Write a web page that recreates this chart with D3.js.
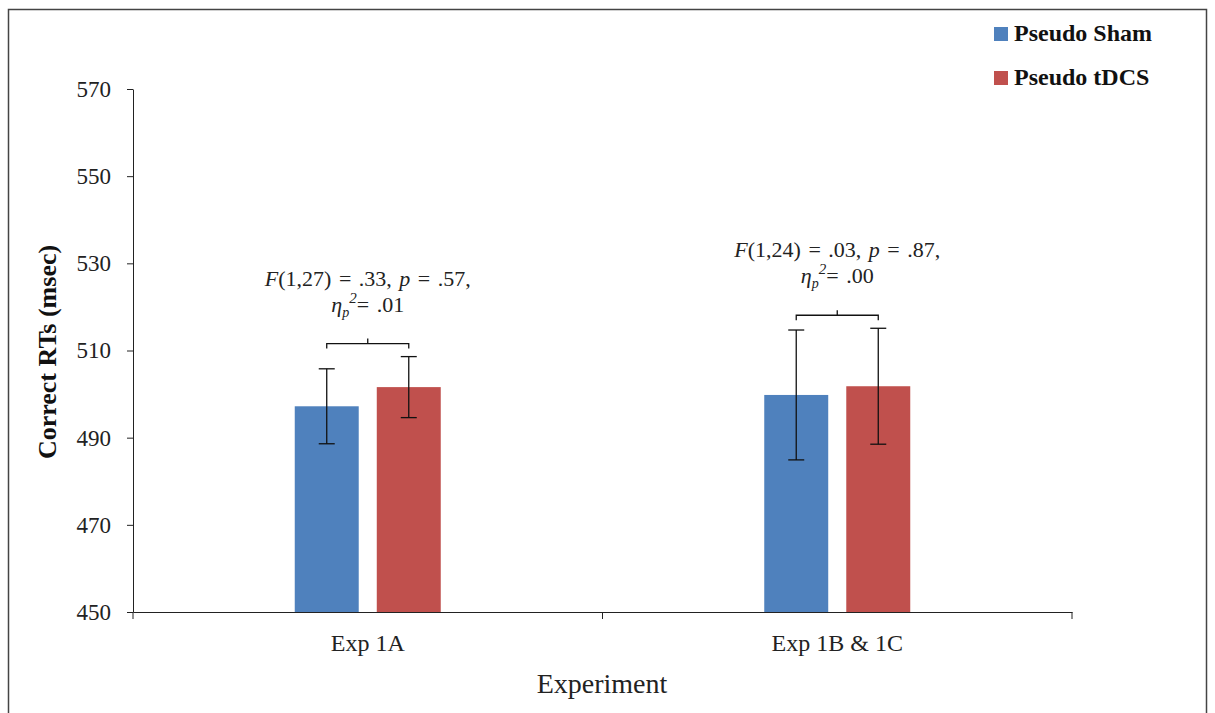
<!DOCTYPE html>
<html>
<head>
<meta charset="utf-8">
<script src="https://cdn.jsdelivr.net/npm/d3@7"></script>
<style>
  body { margin: 0; background: #fff; }
  svg { display: block; font-family: "Liberation Serif", "DejaVu Serif", serif; }
</style>
</head>
<body>
<svg class="chart" width="1215" height="713"></svg>
<script>
// data
const categories = ["Exp 1A", "Exp 1B & 1C"];
const series = ["Pseudo Sham", "Pseudo tDCS"];
const shamMeans = [497.2, 499.8];
const tdcsMeans = [501.6, 501.8];
const shamErr = [8.6, 14.9];
const tdcsErr = [7.0, 13.3];
const statLines = [
  ["F(1,27) = .33, p = .57,", ".01"],
  ["F(1,24) = .03, p = .87,", ".00"]
];
const yTicks = [450, 470, 490, 510, 530, 550, 570];
const colors = ["#4F81BD", "#C0504D"];

const serif = "'Liberation Serif', 'DejaVu Serif', serif";
const svg = d3.select(".chart");

// outer frame
svg.append("rect")
  .attr("x", 8.5).attr("y", 9.5)
  .attr("width", 1198).attr("height", 720)
  .attr("fill", "none")
  .attr("stroke", "#444")
  .attr("stroke-width", 1.5);

const x = d3.scaleBand().domain(categories).range([133, 1072]);
const x1 = d3.scaleBand().domain(series).range([-73, 73]).paddingInner(0.22);
const y = d3.scaleLinear().domain([450, 570]).range([612, 89]);

// y axis
const yAxis = svg.append("g")
  .attr("transform", "translate(133,0)")
  .call(d3.axisLeft(y).tickValues(yTicks).tickSize(6).tickSizeOuter(0).tickPadding(16))
  .attr("font-family", serif);
yAxis.selectAll("text").style("font-size", "23px").attr("fill", "#222");
yAxis.selectAll("line, path").attr("stroke", "#222");

// x axis: line with ticks at the category boundaries
const xAxis = svg.append("g")
  .attr("transform", "translate(0,612)")
  .call(d3.axisBottom(x).tickSize(0).tickPadding(22))
  .attr("font-family", serif);
xAxis.selectAll("text").style("font-size", "24px").attr("fill", "#222");
xAxis.select("path").attr("stroke", "#222");
const bounds = categories.map(c => x(c)).concat([x.range()[1]]);
xAxis.selectAll(".bound")
  .data(bounds)
  .join("line")
  .attr("class", "bound")
  .attr("x1", d => d).attr("x2", d => d)
  .attr("y1", 0).attr("y2", 7)
  .attr("stroke", "#222");

// bars
const rows = categories.map((c, i) => ({
  cat: c,
  vals: [
    { s: series[0], mean: shamMeans[i], err: shamErr[i], color: colors[0] },
    { s: series[1], mean: tdcsMeans[i], err: tdcsErr[i], color: colors[1] }
  ]
}));

const groups = svg.selectAll(".grp")
  .data(rows)
  .join("g")
  .attr("class", "grp")
  .attr("transform", d => `translate(${x(d.cat) + x.bandwidth() / 2},0)`);

groups.selectAll("rect")
  .data(d => d.vals)
  .join("rect")
  .attr("x", d => x1(d.s))
  .attr("y", d => y(d.mean))
  .attr("width", x1.bandwidth())
  .attr("height", d => y(450) - y(d.mean))
  .attr("fill", d => d.color);

// error bars
const cap = 8;
groups.each(function (d) {
  const g = d3.select(this);
  d.vals.forEach(v => {
    const cx = x1(v.s) + x1.bandwidth() / 2;
    const e = g.append("g").attr("stroke", "#111").attr("stroke-width", 1.3);
    e.append("line").attr("x1", cx).attr("x2", cx).attr("y1", y(v.mean + v.err)).attr("y2", y(v.mean - v.err));
    e.append("line").attr("x1", cx - cap).attr("x2", cx + cap).attr("y1", y(v.mean + v.err)).attr("y2", y(v.mean + v.err));
    e.append("line").attr("x1", cx - cap).attr("x2", cx + cap).attr("y1", y(v.mean - v.err)).attr("y2", y(v.mean - v.err));
  });
});

// brackets and stats text
groups.each(function (d, i) {
  const g = d3.select(this);
  const by = d3.min(d.vals, v => y(v.mean + v.err)) - 13;
  const xa = x1(series[0]) + x1.bandwidth() / 2;
  const xb = x1(series[1]) + x1.bandwidth() / 2;
  g.append("path")
    .attr("d", `M${xa},${by + 5}V${by}H${xb}V${by + 5}M${(xa + xb) / 2},${by}V${by - 5}`)
    .attr("fill", "none")
    .attr("stroke", "#111")
    .attr("stroke-width", 1.3);

  const l2 = by - 32;
  const t1 = g.append("text")
    .attr("x", 0).attr("y", l2 - 26)
    .attr("text-anchor", "middle")
    .style("font-size", "22px")
    .style("word-spacing", "2px")
    .attr("fill", "#222");
  // italicise F and p
  const parts = statLines[i][0].split(/(F|p)/).filter(s => s.length);
  parts.forEach(p => {
    t1.append("tspan")
      .style("font-style", p === "F" || p === "p" ? "italic" : "normal")
      .text(p);
  });

  const t2 = g.append("text")
    .attr("x", 0).attr("y", l2)
    .attr("text-anchor", "middle")
    .style("font-size", "22px")
    .style("word-spacing", "2px")
    .attr("fill", "#222");
  t2.append("tspan").style("font-style", "italic").text("η");
  t2.append("tspan").style("font-style", "italic").style("font-size", "14px").attr("dy", 5).text("p");
  t2.append("tspan").style("font-style", "italic").style("font-size", "15px").attr("dy", -14).text("2");
  t2.append("tspan").attr("dy", 9).text("= " + statLines[i][1]);
});

// axis titles
svg.append("text")
  .attr("transform", "translate(56,352) rotate(-90)")
  .attr("text-anchor", "middle")
  .style("font-size", "26px")
  .style("font-weight", "bold")
  .attr("fill", "#111")
  .text("Correct RTs (msec)");

svg.append("text")
  .attr("x", 602).attr("y", 693)
  .attr("text-anchor", "middle")
  .style("font-size", "28px")
  .attr("fill", "#222")
  .text("Experiment");

// legend
const legend = svg.append("g").attr("transform", "translate(994,27)");
const li = legend.selectAll("g")
  .data(series)
  .join("g")
  .attr("transform", (d, i) => `translate(0,${i * 44})`);
li.append("rect")
  .attr("width", 14).attr("height", 14)
  .attr("fill", (d, i) => colors[i]);
li.append("text")
  .attr("x", 20).attr("y", 14)
  .style("font-size", "24px")
  .style("font-weight", "bold")
  .attr("fill", "#111")
  .text(d => d);
</script>
</body>
</html>
